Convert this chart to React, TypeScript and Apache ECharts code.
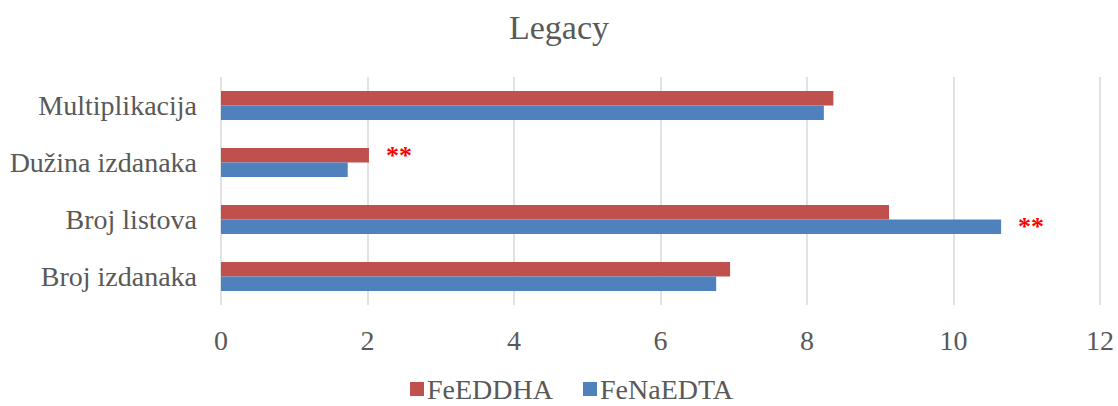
import React, { useEffect, useRef } from "react";
import * as echarts from "echarts";

const categories = ["Broj izdanaka", "Broj listova", "Dužina izdanaka", "Multiplikacija"];
const feEDDHA = [6.95, 9.12, 2.02, 8.36];
const feNaEDTA = [6.76, 10.65, 1.73, 8.23];
// significance markers per category (empty = none)
const markEDDHA = ["", "", "**", ""];
const markNaEDTA = ["", "**", "", ""];
const xTicks = { min: 0, max: 12, interval: 2 };

const FONT = "Liberation Serif";
const TEXT = "#595959";

function withMarks(values: number[], marks: string[]) {
  return values.map((v, i) =>
    marks[i]
      ? {
          value: v,
          label: {
            show: true,
            position: "right",
            distance: 17,
            formatter: marks[i],
            color: "#FF0000",
            fontWeight: "bold",
            fontSize: 26,
            fontFamily: FONT,
          },
        }
      : v
  );
}

export default function App() {
  const ref = useRef<HTMLDivElement>(null);
  useEffect(() => {
    if (!ref.current) return;
    const chart = echarts.init(ref.current, undefined, { renderer: "svg" });
    chart.setOption({
      animation: false,
      backgroundColor: "#ffffff",
      title: {
        text: "Legacy",
        left: "center",
        top: 5,
        textStyle: { fontFamily: FONT, fontSize: 34, fontWeight: "normal", color: TEXT },
      },
      legend: {
        data: ["FeEDDHA", "FeNaEDTA"],
        top: 375,
        left: 405,
        padding: [0, 5, 0, 5],
        icon: "rect",
        itemWidth: 14,
        itemHeight: 14,
        itemGap: 30,
        textStyle: { fontFamily: FONT, fontSize: 28, color: TEXT, padding: [0, 0, 0, -2] },
      },
      grid: { left: 221, right: 18, top: 77, bottom: 101 },
      xAxis: {
        type: "value",
        min: xTicks.min,
        max: xTicks.max,
        interval: xTicks.interval,
        axisLine: { show: false },
        axisTick: { show: false },
        splitLine: { show: true, lineStyle: { color: "#D9D9D9", width: 1.5 } },
        axisLabel: { fontFamily: FONT, fontSize: 28, color: TEXT, margin: 21 },
      },
      yAxis: {
        type: "category",
        data: categories,
        axisLine: { show: false },
        axisTick: { show: false },
        axisLabel: { fontFamily: FONT, fontSize: 28, color: TEXT, margin: 24 },
      },
      series: [
        {
          name: "FeEDDHA",
          type: "bar",
          data: withMarks(feEDDHA, markEDDHA),
          itemStyle: { color: "#C0504D" },
          barGap: "0%",
          barCategoryGap: "49%",
        },
        {
          name: "FeNaEDTA",
          type: "bar",
          data: withMarks(feNaEDTA, markNaEDTA),
          itemStyle: { color: "#4F81BD" },
          barGap: "0%",
          barCategoryGap: "49%",
        },
      ],
    });
    return () => chart.dispose();
  }, []);
  return (
    <div
      ref={ref}
      style={{ position: "fixed", left: 0, top: 0, width: 1118, height: 406 }}
    />
  );
}
